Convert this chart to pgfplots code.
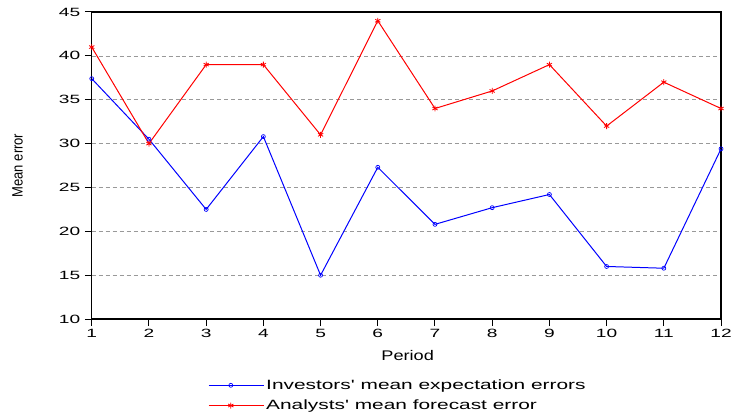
\documentclass[border=0pt]{standalone}
\usepackage{fontspec}
\setmainfont{Liberation Sans}
\newfontfamily\tickfont[FakeStretch=1.6]{Liberation Sans}
\newfontfamily\legfont[FakeStretch=1.55]{Liberation Sans}
\newfontfamily\perfont[FakeStretch=1.3]{Liberation Sans}
\usepackage{graphicx}
\usepackage{pgfplots}
\pgfplotsset{compat=1.18}
\begin{document}
\begin{tikzpicture}
\begin{axis}[
  name=ax,
  scale only axis, width=631pt, height=308pt,
  xmin=1, xmax=12, ymin=10, ymax=45,
  xtick={1,...,12}, ytick={10,15,...,45},
  tick align=outside, tick pos=left,
  major tick length=7pt,
  tick style={black, line width=1pt},
  axis line style={black, line width=1.4pt},
  ymajorgrids, grid style={gray!80, dash pattern=on 4pt off 3pt, line width=0.6pt},
  /pgf/number format/assume math mode=true,
  tick label style={font=\tickfont\fontsize{12}{14}\selectfont},
  yticklabel style={xshift=-1pt},
  xlabel={Period},
  xlabel style={at={(axis description cs:0.502,-0.12)}, anchor=center, font=\perfont\fontsize{14}{16}\selectfont},
  ylabel={\scalebox{0.87}[1]{\fontsize{15}{17}\selectfont Mean error}},
  ylabel style={at={(axis description cs:-0.118,0.5)}, anchor=center},
  legend style={at={(axis description cs:0.185,-0.19)}, anchor=north west, draw=none, fill=none,
    font=\legfont\fontsize{13.5}{15}\selectfont, row sep=5pt, inner sep=0pt},
  legend cell align=left,
  legend image code/.code={\path (0pt,0pt) -- (55pt,0pt);\draw[#1, mark repeat=2, mark phase=2] plot coordinates {(0pt,0pt) (22pt,0pt) (44pt,0pt)};},
]
\addplot[blue, line width=1pt, mark=o, mark size=2pt, mark options={line width=0.7pt}] coordinates {
(1,37.4) (2,30.5) (3,22.5) (4,30.8) (5,15.0) (6,27.3) (7,20.8) (8,22.7) (9,24.2) (10,16.0) (11,15.8) (12,29.4)};
\addlegendentry{Investors' mean expectation errors}
\addplot[red, line width=1pt, mark=asterisk, mark size=3pt, mark options={line width=0.8pt}] coordinates {
(1,41) (2,30) (3,39) (4,39) (5,31) (6,44) (7,34) (8,36) (9,39) (10,32) (11,37) (12,34)};
\addlegendentry{Analysts' mean forecast error}
\end{axis}
\path (ax.south west) ++(-92pt,-94pt) rectangle ++(735pt,414pt);
\end{tikzpicture}
\end{document}
